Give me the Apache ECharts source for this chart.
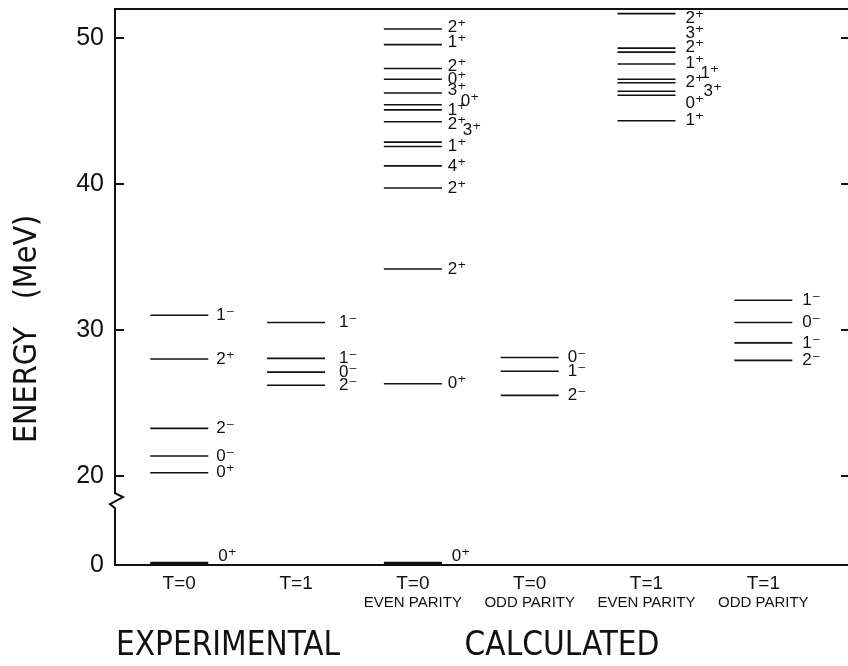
<!DOCTYPE html>
<html>
<head>
<meta charset="utf-8">
<script src="https://cdn.jsdelivr.net/npm/echarts@6/dist/echarts.min.js"></script>
<style>html,body{margin:0;padding:0;background:#fff;}#c{width:848px;height:666px;}</style>
</head>
<body>
<div id="c"></div>
<script>
// ---- data ----
const columnNames = ['T=0', 'T=1', 'T=0', 'T=0', 'T=1', 'T=1'];
const columnSubNames = ['', '', 'EVEN PARITY', 'ODD PARITY', 'EVEN PARITY', 'ODD PARITY'];

const expT0Energy = [0, 20.2, 21.35, 23.24, 28.0, 31.0];
const expT0Jpi = ['0⁺', '0⁺', '0⁻', '2⁻', '2⁺', '1⁻'];

const expT1Energy = [26.2, 27.1, 28.04, 30.5];
const expT1Jpi = ['2⁻', '0⁻', '1⁻', '1⁻'];

const calcT0EvenEnergy = [0, 26.3, 34.17, 39.72, 41.24, 42.57, 42.87, 44.27, 45.08, 45.43, 46.24, 47.18, 47.92, 49.56, 50.63];
const calcT0EvenJpi = ['0⁺', '0⁺', '2⁺', '2⁺', '4⁺', '1⁺', '3⁺', '2⁺', '1⁺', '0⁺', '3⁺', '0⁺', '2⁺', '1⁺', '2⁺'];

const calcT0OddEnergy = [25.5, 27.16, 28.1];
const calcT0OddJpi = ['2⁻', '1⁻', '0⁻'];

const calcT1EvenEnergy = [44.34, 46.08, 46.36, 46.94, 47.18, 48.23, 49.04, 49.32, 51.68];
const calcT1EvenJpi = ['1⁺', '0⁺', '3⁺', '2⁺', '1⁺', '1⁺', '2⁺', '3⁺', '2⁺'];

const calcT1OddEnergy = [27.9, 29.1, 30.5, 32.03];
const calcT1OddJpi = ['2⁻', '1⁻', '0⁻', '1⁻'];

const yLabelValues = [0, 20, 30, 40, 50];
const yTickValues = [20, 30, 40, 50];

// ---- layout (label nudges in px, not data) ----
const columns = [
  {E: expT0Energy, J: expT0Jpi, gap: 8, dx: [2,0,0,0,0,0], dy: [-9,0,0,0,0,0]},
  {E: expT1Energy, J: expT1Jpi, gap: 14, dx: [0,0,0,0], dy: [0,0,0,0]},
  {E: calcT0EvenEnergy, J: calcT0EvenJpi, gap: 6,
    dx: [4,0,0,0,0,0,15,0,0,13,0,0,0,0,0],
    dy: [-9,0,0,0,0,0,-12,3,0,-3,-3,0,-2,-2,-1.5]},
  {E: calcT0OddEnergy, J: calcT0OddJpi, gap: 9, dx: [0,0,0], dy: [0,0,0]},
  {E: calcT1EvenEnergy, J: calcT1EvenJpi, gap: 10,
    dx: [0,0,18,0,15,0,0,0,0], dy: [0,8,0,0,-6,-1,-5,-15,4.5]},
  {E: calcT1OddEnergy, J: calcT1OddJpi, gap: 10, dx: [0,0,0,0], dy: [0,0,0,0]}
];

const breakStart = 3.9, breakEnd = 18.8, breakGap = 1.03;
const xMin = -0.55, xMax = 5.725;
const HALF = 29;
const LABEL_FONT = "17px 'Liberation Sans', 'DejaVu Sans', Arial, sans-serif";
const TITLE_FONT_FAMILY = "'Liberation Sans Narrow', 'DejaVu Sans Condensed', Arial, sans-serif";

const chart = echarts.init(document.getElementById('c'), null, {renderer: 'canvas'});

const levelSeries = columns.map((col, ci) => ({
  type: 'custom',
  xAxisIndex: 0, yAxisIndex: 0,
  clip: false,
  data: col.E.map((e, k) => [ci, e, k]),
  renderItem: function (params, api) {
    const c = api.value(0), e = api.value(1), k = api.value(2);
    const p = api.coord([c, e]);
    const colDef = columns[c];
    const thick = e === 0;
    return {
      type: 'group',
      children: [
        {type: 'line', shape: {x1: p[0] - HALF, y1: thick ? p[1] - 1.5 : p[1], x2: p[0] + HALF, y2: thick ? p[1] - 1.5 : p[1]},
          style: {stroke: '#111', lineWidth: thick ? 3.5 : 1.6}},
        {type: 'text', x: p[0] + HALF + colDef.gap + colDef.dx[k], y: p[1] + colDef.dy[k],
          style: {text: colDef.J[k], font: LABEL_FONT, fill: '#111', align: 'left', verticalAlign: 'middle'}}
      ]
    };
  }
}));

// left axis line with zig-zag at the break
const axisSeries = {
  type: 'custom', xAxisIndex: 0, yAxisIndex: 0, clip: false,
  data: [[0]],
  renderItem: function (params, api) {
    const b = api.coord([xMin, 0]);
    const s = api.coord([xMin, breakStart]);
    const t = api.coord([xMin, breakEnd]);
    const top = api.coord([xMin, 52]);
    const x = b[0];
    return {
      type: 'polyline',
      shape: {points: [[x, b[1] + 1], [x, s[1]], [x - 5, s[1] - 4], [x + 8, t[1] + 4], [x, t[1]], [x, top[1] - 1]]},
      style: {stroke: '#111', lineWidth: 2, fill: null}
    };
  }
};

chart.setOption({
  animation: false,
  backgroundColor: '#fff',
  grid: {left: 115, right: 0, top: 9, bottom: 101, containLabel: false},
  xAxis: [
    {
      type: 'value', min: xMin, max: xMax, position: 'bottom',
      axisLine: {show: true, onZero: false, lineStyle: {color: '#111', width: 2}},
      axisTick: {show: false}, splitLine: {show: false},
      axisLabel: {
        customValues: [0, 1, 2, 3, 4, 5],
        margin: 9,
        formatter: function (v) {
          const i = Math.round(v);
          return columnSubNames[i] ? '{a|' + columnNames[i] + '}\n{b|' + columnSubNames[i] + '}' : '{a|' + columnNames[i] + '}';
        },
        rich: {
          a: {fontSize: 19, fontFamily: "'Liberation Sans', Arial, sans-serif", color: '#111', lineHeight: 20},
          b: {fontSize: 15, fontFamily: "'Liberation Sans', Arial, sans-serif", color: '#111', lineHeight: 17}
        }
      }
    },
    {
      type: 'value', min: xMin, max: xMax, position: 'top',
      axisLine: {show: true, onZero: false, lineStyle: {color: '#111', width: 2}},
      axisTick: {show: false}, axisLabel: {show: false}, splitLine: {show: false}
    }
  ],
  yAxis: [
    {
      type: 'value', min: 0, max: 52, position: 'left',
      breaks: [{start: breakStart, end: breakEnd, gap: breakGap}],
      breakArea: {show: false},
      axisLine: {show: false, onZero: false},
      axisTick: {show: true, inside: true, length: 9, customValues: yTickValues, lineStyle: {color: '#111', width: 2}},
      axisLabel: {customValues: yLabelValues, margin: 11, fontSize: 25, color: '#111', fontFamily: "'Liberation Sans', Arial, sans-serif"},
      splitLine: {show: false}
    },
    {
      type: 'value', min: 0, max: 52, position: 'right',
      breaks: [{start: breakStart, end: breakEnd, gap: breakGap}],
      breakArea: {show: false},
      axisLine: {show: true, onZero: false, lineStyle: {color: '#aaa', width: 1}},
      axisTick: {show: true, inside: true, length: 7, customValues: yTickValues, lineStyle: {color: '#111', width: 2}},
      axisLabel: {show: false},
      splitLine: {show: false}
    }
  ],
  graphic: [
    {type: 'text', x: 28, y: 385, rotation: Math.PI / 2,
      style: {text: 'ENERGY', font: "32px " + TITLE_FONT_FAMILY, fill: '#111', align: 'center', verticalAlign: 'middle'}},
    {type: 'text', x: 28, y: 257, rotation: Math.PI / 2,
      style: {text: '(MeV)', font: "32px " + TITLE_FONT_FAMILY, fill: '#111', align: 'center', verticalAlign: 'middle'}},
    {type: 'text', x: 228, y: 646,
      style: {text: 'EXPERIMENTAL', font: "33px " + TITLE_FONT_FAMILY, fill: '#111', align: 'center', verticalAlign: 'middle'}},
    {type: 'text', x: 562, y: 646,
      style: {text: 'CALCULATED', font: "33px " + TITLE_FONT_FAMILY, fill: '#111', align: 'center', verticalAlign: 'middle'}}
  ],
  series: levelSeries.concat([axisSeries])
});
</script>
</body>
</html>
